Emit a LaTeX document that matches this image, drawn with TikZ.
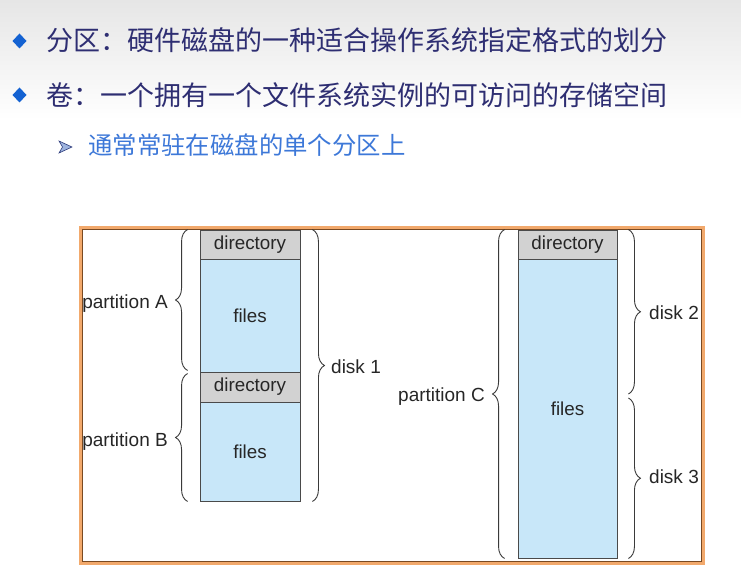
\documentclass[tikz,border=0pt]{standalone}
\usepackage{fontspec}
\setmainfont{Liberation Sans}
\newfontfamily\cjk{Noto Sans CJK SC}
\usetikzlibrary{calc,decorations.pathreplacing}
\definecolor{titleink}{HTML}{2E2E72}
\definecolor{subink}{HTML}{3D78D8}
\definecolor{bulletblue}{HTML}{1462D2}
\definecolor{arrowfill}{HTML}{9DB3DE}
\definecolor{arrowline}{HTML}{2E3C7C}
\definecolor{frameorange}{HTML}{F2A96C}
\definecolor{framedark}{HTML}{7A4A22}
\definecolor{boxline}{HTML}{4A4A4A}
\definecolor{dirfill}{HTML}{D2D2D2}
\definecolor{filefill}{HTML}{C8E7F9}
\definecolor{labelink}{HTML}{262626}
\definecolor{braceink}{HTML}{3A3A3A}
\definecolor{topgray}{HTML}{E6E6E6}
\begin{document}
\begin{tikzpicture}[x=1pt,y=-1pt,
  headline/.style={anchor=base west, inner sep=0pt, text=titleink, font=\cjk\fontsize{27}{30}\selectfont},
  subline/.style={anchor=base west, inner sep=0pt, text=subink, font=\cjk\fontsize{24.4}{28}\selectfont},
  dirbox/.style={draw=boxline, line width=0.9pt, fill=dirfill, inner sep=0pt, minimum width=100pt,
                 text=labelink, font=\fontsize{18.8}{20}\selectfont},
  filebox/.style={dirbox, fill=filefill},
  lbl/.style={inner sep=0pt, text=labelink, font=\fontsize{19}{21}\selectfont},
  bracket/.style={decorate, decoration={brace, amplitude=12pt}, draw=braceink, line width=0.9pt}
]
\useasboundingbox (0,0) rectangle (741,585);
% soft grey band at the top of the slide
\shade[top color=topgray, bottom color=white] (0,0) rectangle (741,120);

% bullet list
\fill[bulletblue] (19.5,33.5) -- (26.5,41) -- (19.5,48.5) -- (12.5,41) -- cycle;
\node[headline] (line1) at (46,50.5) {分区：硬件磁盘的一种适合操作系统指定格式的划分};
\fill[bulletblue] (19.5,87.5) -- (26.5,95) -- (19.5,102.5) -- (12.5,95) -- cycle;
\node[headline] (line2) at (46,105.5) {卷：一个拥有一个文件系统实例的可访问的存储空间};
\filldraw[fill=arrowfill, draw=arrowline, line width=0.6pt]
  (59,141) -- (72,147) -- (59,153) -- (62.5,147) -- cycle;
\node[subline] (line3) at (88,154.5) {通常常驻在磁盘的单个分区上};

% frame
\draw[frameorange, line width=3pt] (80.5,227.5) rectangle (703.5,563.5);
\draw[framedark, line width=0.8pt] (82.5,229.5) rectangle (701.5,561.5);

% disk 1: two partitions
\node[dirbox, minimum height=29pt] (dirA) at (250,244.5) {directory};
\node[filebox, minimum height=113pt] (filesA) at (250,315.5) {files};
\node[dirbox, minimum height=30pt] (dirB) at (250,387) {directory};
\node[filebox, minimum height=99pt] (filesB) at (250,451.5) {files};

% partition C spanning disks 2 and 3
\node[dirbox, minimum width=99pt, minimum height=29pt] (dirC) at (567.5,244.5) {directory};
\node[filebox, minimum width=99pt, minimum height=299pt] (filesC) at (567.5,408.5) {files};

% braces
\draw[bracket] ($(filesA.south west)+(-12,-2)$) -- ($(dirA.north west)+(-12,0)$);
\draw[bracket] ($(filesB.south west)+(-12,0)$) -- ($(dirB.north west)+(-12,2)$);
\draw[bracket] ($(dirA.north east)+(12,0)$) -- ($(filesB.south east)+(12,0)$);
\draw[bracket] ($(filesC.south west)+(-13,0)$) -- ($(dirC.north west)+(-13,0)$);
\coordinate (split) at ($(filesC.east)+(11,-12.5)$);
\draw[bracket] ($(dirC.north east)+(11,0)$) -- ($(split)+(0,-2)$);
\draw[bracket] ($(split)+(0,2)$) -- ($(filesC.south east)+(11,0)$);

% brace labels
\node[lbl, anchor=east] (labA) at (168,304) {partition A};
\node[lbl, anchor=east] (labB) at (168,442) {partition B};
\node[lbl, anchor=west] (lab1) at (331,367) {disk 1};
\node[lbl, anchor=east] (labC) at (485,396.5) {partition C};
\node[lbl, anchor=west] (lab2) at (649,313) {disk 2};
\node[lbl, anchor=west] (lab3) at (649,477) {disk 3};
\end{tikzpicture}
\end{document}
